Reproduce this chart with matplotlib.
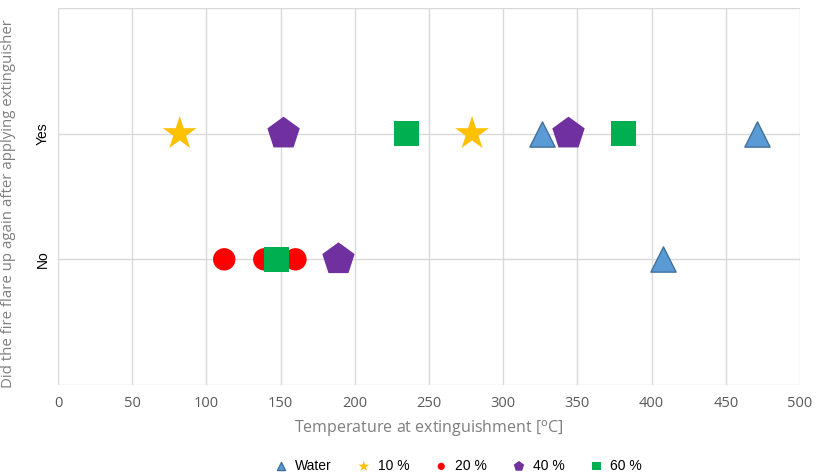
import matplotlib
matplotlib.use("Agg")
import matplotlib.pyplot as plt

# flare-up: 1 = No, 2 = Yes
water_t = [326, 471, 408]
water_y = [2, 2, 1]
p10_t = [82, 279]
p10_y = [2, 2]
p20_t = [112, 139, 160]
p20_y = [1, 1, 1]
p40_t = [152, 344, 189]
p40_y = [2, 2, 1]
p60_t = [235, 381, 147]
p60_y = [2, 2, 1]

x_ticks = list(range(0, 501, 50))
y_ticks = [1, 2]
y_labels = ["No", "Yes"]

fig = plt.figure(figsize=(8.17, 4.76), dpi=100)
ax = fig.add_axes([58 / 817, 1 - 385 / 476, (800 - 58) / 817, (385 - 8) / 476])

ax.scatter(p20_t, p20_y, marker="o", s=260, color="#FF0000", edgecolors="none", label="20 %", zorder=3)
ax.scatter(p60_t, p60_y, marker="s", s=330, color="#00B050", edgecolors="none", label="60 %", zorder=4)
ax.scatter(water_t, water_y, marker="^", s=330, color="#5B9BD5", edgecolors="#41719C", linewidths=1,
           label="Water", zorder=3)
ax.scatter(p10_t, p10_y, marker="*", s=650, color="#FFC000", edgecolors="none", label="10 %", zorder=3)
ax.scatter(p40_t, p40_y, marker="p", s=600, color="#7030A0", edgecolors="none", label="40 %", zorder=3)

ax.set_xlim(0, 500)
ax.set_ylim(0, 3)
ax.set_xticks(x_ticks)
ax.set_yticks([0] + y_ticks + [3])
ax.set_yticklabels([""] + y_labels + [""], rotation=90, va="center", fontsize=10,
                   family="Liberation Sans")
ax.tick_params(axis="both", length=0)
ax.tick_params(axis="x", pad=8, labelsize=10.5, labelcolor="#595959")
ax.tick_params(axis="y", pad=6)
for lbl in ax.get_xticklabels():
    lbl.set_family("Open Sans")
ax.grid(True, color="#D9D9D9", linewidth=1)
ax.set_axisbelow(True)
for sp in ax.spines.values():
    sp.set_visible(False)

ax.set_xlabel(r"Temperature at extinguishment [$^{\mathrm{o}}$C]", fontsize=11.5, color="#7F7F7F",
              family="Open Sans", labelpad=5)
ax.set_ylabel("Did the fire flare up again after applying extinguisher", fontsize=10.8,
              color="#7F7F7F", family="Open Sans", labelpad=8)
ax.yaxis.set_label_coords(-0.057, 0.48)

h, l = ax.get_legend_handles_labels()
order = [l.index(k) for k in ["Water", "10 %", "20 %", "40 %", "60 %"]]
leg = fig.legend([h[i] for i in order], [l[i] for i in order], loc="lower center",
                 bbox_to_anchor=(0.56, -0.02), ncol=5, frameon=False, markerscale=0.32,
                 handlelength=1.2, handletextpad=0.4, columnspacing=1.7,
                 prop={"family": "Liberation Sans", "size": 10})

fig.savefig("out.png", dpi=100)
